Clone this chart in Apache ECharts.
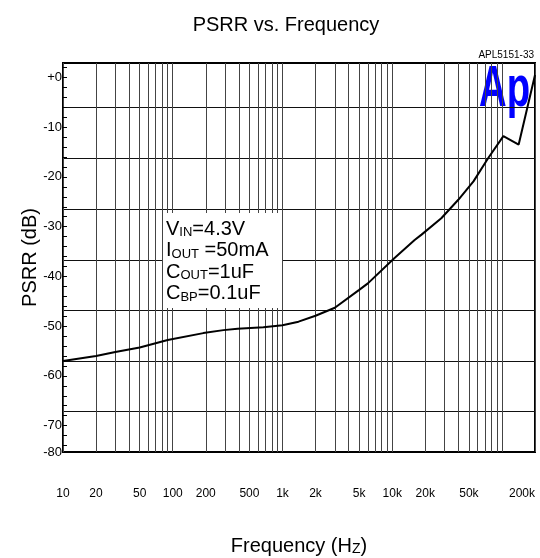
<!DOCTYPE html>
<html>
<head>
<meta charset="utf-8">
<script src="https://cdn.jsdelivr.net/npm/echarts@6/dist/echarts.min.js"></script>
<style>
  html, body { margin: 0; padding: 0; background: #fff; }
  #chart { width: 540px; height: 558px; }
</style>
</head>
<body>
<div id="chart"></div>
<script>
// PSRR curve (Hz, dB)
var freqHz = [10, 20, 30, 50, 90, 190, 290, 390, 670, 1000, 1400, 2000, 3000, 5000, 6000,
              10500, 16000, 18500, 28000, 40000, 55000, 75000, 103000, 142000, 200000];
var psrrDb = [-57.0, -56.0, -55.2, -54.3, -52.8, -51.4, -50.8, -50.5, -50.2, -49.8, -49.1, -47.9, -46.3, -42.7, -41.4,
              -36.3, -32.7, -31.6, -28.3, -24.6, -20.9, -16.2, -11.8, -13.5, 0.5];

// x axis: labelled frequencies and 1..9 per decade grid
var xLabelValues = [10, 20, 50, 100, 200, 500, 1000, 2000, 5000, 10000, 20000, 50000, 200000];
var xLabelText = ['10', '20', '50', '100', '200', '500', '1k', '2k', '5k', '10k', '20k', '50k', '200k'];
var xGridValues = [];
[10, 100, 1000, 10000, 100000].forEach(function (d) {
    for (var m = 1; m <= 9; m++) { if (d * m <= 200000) xGridValues.push(d * m); }
});
xGridValues.push(200000);

// y axis: labels, small ticks, and the (offset) horizontal grid lines of the original
var yMin = -75.3, yMax = 2.9;
var yLabelValues = [0, -10, -20, -30, -40, -50, -60, -70, yMin];
var yTickValues = [];
for (var t = 2; t >= -74; t -= 2) yTickValues.push(t);
var yGridValues = [-5.9, -16.2, -26.6, -36.7, -46.9, -57.0, -67.1];

var chart = echarts.init(document.getElementById('chart'));
var narrow = 'Liberation Sans Narrow, Liberation Sans, Arial, sans-serif';
var sans = 'Liberation Sans, Arial, sans-serif';

chart.setOption({
    animation: false,
    title: {
        text: 'PSRR vs. Frequency',
        left: 281, top: 10, textAlign: 'center',
        textStyle: { fontFamily: sans, fontSize: 20, fontWeight: 'normal', color: '#000' }
    },
    grid: {
        left: 63, right: 5, top: 63, bottom: 106,
        outerBoundsMode: 'none',
        show: true, borderColor: '#000', borderWidth: 2
    },
    xAxis: {
        type: 'log', logBase: 10, min: 10, max: 200000,
        name: '{a|Frequency (H}{b|Z}{a|)}',
        nameLocation: 'middle', nameGap: 84,
        nameTextStyle: { rich: {
            a: { fontFamily: sans, fontSize: 20, color: '#000', verticalAlign: 'bottom' },
            b: { fontFamily: sans, fontSize: 14, color: '#000', verticalAlign: 'bottom' }
        } },
        axisLine: { show: false },
        axisTick: { show: false, customValues: xGridValues },
        splitLine: { show: true, lineStyle: { color: '#444', width: 1 } },
        axisLabel: {
            customValues: xLabelValues, margin: 36,
            fontFamily: narrow, fontSize: 12, color: '#000',
            alignMaxLabel: 'right',
            formatter: function (v) { return xLabelText[xLabelValues.indexOf(v)] || ''; }
        }
    },
    yAxis: [{
        type: 'value', min: yMin, max: yMax,
        name: 'PSRR (dB)', nameLocation: 'middle', nameGap: 23, nameMoveOverlap: false,
        nameTextStyle: { fontFamily: sans, fontSize: 20, color: '#000' },
        axisLine: { show: false },
        axisTick: { show: true, inside: true, length: 4, customValues: yTickValues, lineStyle: { color: '#000' } },
        splitLine: { show: false },
        axisLabel: {
            customValues: yLabelValues, margin: 1,
            fontFamily: narrow, fontSize: 13, color: '#000',
            formatter: function (v) {
                if (v === 0) return '+0';
                if (v === yMin) return '-80';
                return String(v);
            }
        }
    }, {
        type: 'value', min: yMin, max: yMax, position: 'left',
        axisLine: { show: false },
        axisTick: { show: false, customValues: yGridValues },
        axisLabel: { show: false },
        splitLine: { show: true, lineStyle: { color: '#111', width: 1 } }
    }],
    graphic: [
        {
            type: 'text', right: 6, top: 50,
            style: { text: 'APL5151-33', fontFamily: sans, fontSize: 10, fill: '#000' }
        },
        {
            type: 'text', left: 479, top: 61, scaleX: 0.66,
            style: { text: 'Ap', fontFamily: sans, fontSize: 58, fontWeight: 'bold', fill: '#0000ff' }
        },
        {
            type: 'rect', left: 163, top: 213, z: 10,
            shape: { width: 119, height: 95 },
            style: { fill: '#fff' }
        },
        {
            type: 'text', left: 166, top: 219, z: 11,
            style: {
                text: '{b|V}{s|IN}{b|=4.3V}\n{b|I}{s|OUT}{b| =50mA}\n{b|C}{s|OUT}{b|=1uF}\n{b|C}{s|BP}{b|=0.1uF}',
                rich: {
                    b: { fontFamily: sans, fontSize: 20, fill: '#000', lineHeight: 21.5, verticalAlign: 'bottom' },
                    s: { fontFamily: sans, fontSize: 13, fill: '#000', lineHeight: 18, verticalAlign: 'bottom' }
                }
            }
        }
    ],
    series: [{
        type: 'line',
        data: freqHz.map(function (f, i) { return [f, psrrDb[i]]; }),
        showSymbol: false,
        lineStyle: { color: '#000', width: 2 },
        z: 5
    }]
});
</script>
</body>
</html>
